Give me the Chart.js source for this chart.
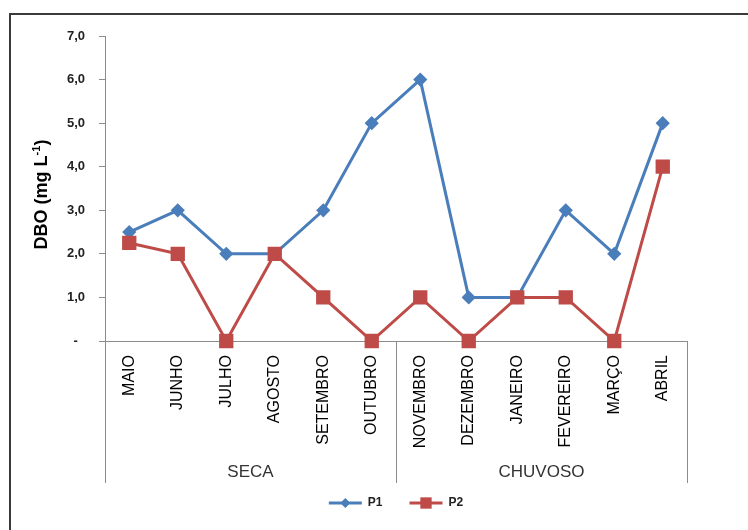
<!DOCTYPE html>
<html>
<head>
<meta charset="utf-8">
<title>DBO P1 / P2</title>
<script src="https://cdn.jsdelivr.net/npm/chart.js@4.4.1/dist/chart.umd.min.js"></script>
<style>
    html, body { margin: 0; padding: 0; background: #fff; }
    #wrap { position: relative; width: 748px; height: 530px; overflow: hidden; }
    #frame { position: absolute; left: 9px; top: 13px; width: 900px; height: 700px;
             border-left: 2px solid #3a3a3a; border-top: 2px solid #3a3a3a; }
    canvas { position: absolute; left: 0; top: 0; }
</style>
</head>
<body>
<div id="wrap">
    <div id="frame"></div>
    <canvas id="dboChart" width="748" height="530"></canvas>
</div>
<script>
const months = ['MAIO', 'JUNHO', 'JULHO', 'AGOSTO', 'SETEMBRO', 'OUTUBRO',
                'NOVEMBRO', 'DEZEMBRO', 'JANEIRO', 'FEVEREIRO', 'MARÇO', 'ABRIL'];
const p1Values = [2.5, 3.0, 2.0, 2.0, 3.0, 5.0, 6.0, 1.0, 1.0, 3.0, 2.0, 5.0];
const p2Values = [2.25, 2.0, 0, 2.0, 1.0, 0, 1.0, 0, 1.0, 1.0, 0, 4.0];
const seasonLabels = ['SECA', 'CHUVOSO'];
const seasonSizes = [6, 6];
const yTickLabels = ['-  ', '1,0', '2,0', '3,0', '4,0', '5,0', '6,0', '7,0'];

const FONT = 'Arial, "Liberation Sans", Helvetica, sans-serif';
const axisColor = '#8c8c8c';
const blue = '#4a7ebb';
const red = '#be4b48';

// season brackets under the month labels
const seasonAxis = {
    id: 'seasonAxis',
    afterDraw(chart) {
        const { ctx, chartArea } = chart;
        const x = chart.scales.x;
        const top = chartArea.bottom;
        const bottom = x.bottom;
        const px = v => Math.round(v) + 0.5;

        ctx.save();
        ctx.strokeStyle = axisColor;
        ctx.lineWidth = 1;
        ctx.fillStyle = '#333';
        ctx.font = '17px ' + FONT;
        ctx.textAlign = 'center';
        ctx.textBaseline = 'middle';

        let start = 0;
        seasonSizes.forEach((n, i) => {
            const first = start;
            const last = start + n - 1;
            const left = first === 0 ? chartArea.left
                : (x.getPixelForValue(first - 1) + x.getPixelForValue(first)) / 2;
            const right = last === months.length - 1 ? chartArea.right
                : (x.getPixelForValue(last) + x.getPixelForValue(last + 1)) / 2;
            [left, right].forEach(lx => {
                ctx.beginPath();
                ctx.moveTo(px(lx), top);
                ctx.lineTo(px(lx), bottom);
                ctx.stroke();
            });
            ctx.fillText(seasonLabels[i], (left + right) / 2, bottom - 11);
            start += n;
        });
        ctx.restore();
    }
};

// y title with superscript
const yTitle = {
    id: 'yTitle',
    afterDraw(chart) {
        const { ctx, chartArea } = chart;
        const main = 'DBO (mg L';
        const sup = '-1';
        const close = ')';
        ctx.save();
        ctx.fillStyle = '#000';
        ctx.textBaseline = 'alphabetic';
        ctx.textAlign = 'left';
        ctx.font = 'bold 18px ' + FONT;
        const wMain = ctx.measureText(main).width;
        const wClose = ctx.measureText(close).width;
        ctx.font = 'bold 11px ' + FONT;
        const wSup = ctx.measureText(sup).width;
        const total = wMain + wSup + wClose;
        ctx.translate(47, (chartArea.top + chartArea.bottom) / 2 + 6);
        ctx.rotate(-Math.PI / 2);
        let cx = -total / 2;
        ctx.font = 'bold 18px ' + FONT;
        ctx.fillText(main, cx, 0);
        cx += wMain;
        ctx.font = 'bold 11px ' + FONT;
        ctx.fillText(sup, cx, -7);
        cx += wSup;
        ctx.font = 'bold 18px ' + FONT;
        ctx.fillText(close, cx, 0);
        ctx.restore();
    }
};

// legend: line + marker + name, centred under the plot
const lineLegend = {
    id: 'lineLegend',
    afterDraw(chart) {
        const { ctx, chartArea } = chart;
        const y = 503;
        const lineLen = 33;
        const gap = 6;
        const spacing = 27;
        ctx.save();
        ctx.font = 'bold 12px ' + FONT;
        ctx.textBaseline = 'middle';
        ctx.textAlign = 'left';
        const sets = chart.data.datasets;
        const widths = sets.map(ds => lineLen + gap + ctx.measureText(ds.label).width);
        const total = widths.reduce((a, b) => a + b, 0) + spacing * (sets.length - 1);
        let lx = (chartArea.left + chartArea.right) / 2 - total / 2;
        sets.forEach((ds, i) => {
            ctx.strokeStyle = ds.borderColor;
            ctx.fillStyle = ds.borderColor;
            ctx.lineWidth = 3;
            ctx.beginPath();
            ctx.moveTo(lx, y);
            ctx.lineTo(lx + lineLen, y);
            ctx.stroke();
            const mx = lx + lineLen / 2;
            ctx.beginPath();
            if (ds.pointStyle === 'rectRot') {
                const r = ds.pointRadius;
                ctx.moveTo(mx, y - r);
                ctx.lineTo(mx + r, y);
                ctx.lineTo(mx, y + r);
                ctx.lineTo(mx - r, y);
                ctx.closePath();
            } else {
                const s = ds.pointRadius * Math.SQRT1_2;
                ctx.rect(mx - s, y - s, 2 * s, 2 * s);
            }
            ctx.fill();
            ctx.fillStyle = '#222';
            ctx.fillText(ds.label, lx + lineLen + gap, y);
            lx += widths[i] + spacing;
        });
        ctx.restore();
    }
};

const ctx = document.getElementById('dboChart').getContext('2d');
new Chart(ctx, {
    type: 'line',
    data: {
        labels: months,
        datasets: [{
            label: 'P1',
            data: p1Values,
            borderColor: blue,
            backgroundColor: blue,
            pointBackgroundColor: blue,
            pointBorderColor: blue,
            borderWidth: 3,
            pointStyle: 'rectRot',
            pointRadius: 5,
            tension: 0,
            clip: false,
            order: 1
        }, {
            label: 'P2',
            data: p2Values,
            borderColor: red,
            backgroundColor: red,
            pointBackgroundColor: red,
            pointBorderColor: red,
            borderWidth: 3,
            pointStyle: 'rect',
            pointRadius: 8,
            tension: 0,
            clip: false,
            order: 0
        }]
    },
    options: {
        responsive: false,
        animation: false,
        layout: { padding: { left: 0, top: 36, right: 61, bottom: 47 } },
        plugins: {
            legend: { display: false },
            tooltip: { enabled: false }
        },
        scales: {
            x: {
                offset: true,
                grid: { display: false },
                border: { display: true, color: axisColor, width: 1 },
                ticks: {
                    autoSkip: false,
                    minRotation: 90,
                    maxRotation: 90,
                    padding: 6,
                    color: '#000',
                    font: { family: FONT, size: 16 }
                },
                afterFit: scale => { scale.height = 142; }
            },
            y: {
                min: 0,
                max: 7,
                ticks: {
                    stepSize: 1,
                    padding: 14,
                    color: '#222',
                    font: { family: FONT, size: 13, weight: 'bold' },
                    callback: v => yTickLabels[v]
                },
                grid: { drawOnChartArea: false, drawTicks: true, tickLength: 6, color: axisColor },
                border: { display: true, color: axisColor, width: 1 },
                afterFit: scale => { scale.width = 105; }
            }
        }
    },
    plugins: [seasonAxis, yTitle, lineLegend]
});
</script>
</body>
</html>
